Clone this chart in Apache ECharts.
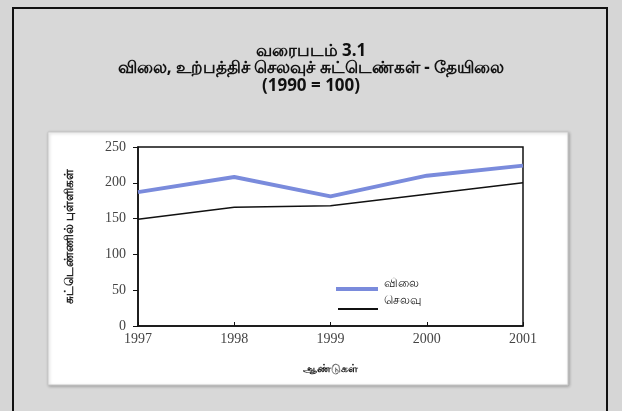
<!DOCTYPE html>
<html><head><meta charset="utf-8">
<script src="https://cdn.jsdelivr.net/npm/echarts@6/dist/echarts.min.js"></script>
<style>html,body{margin:0;padding:0;background:#d6d6d6}#c{width:622px;height:411px}</style>
</head><body><div id="c"></div>
<script>
const years = ['1997','1998','1999','2000','2001'];
const priceIndex = [187, 208, 181, 210, 224];   // விலை
const costIndex  = [149, 166, 168, 184, 200];   // செலவு
const yTicks = [0, 50, 100, 150, 200, 250];
const titleLines = ['வரைபடம் 3.1', 'விலை, உற்பத்திச் செலவுச் சுட்டெண்கள் - தேயிலை', '(1990 = 100)'];
const seriesNames = ['விலை', 'செலவு'];
const xName = 'ஆண்டுகள்';
const yName = 'சுட்டெண்ணில் புள்ளிகள்';

const chart = echarts.init(document.getElementById('c'));
const serif = '"Liberation Serif","DejaVu Serif",serif';
const tFont = 'bold 17px "Noto Sans",sans-serif';
const legText = {fontSize:12, color:'#222', fontFamily:'"Noto Sans",sans-serif'};
chart.setOption({
  backgroundColor: '#d6d6d6',
  animation: false,
  graphic: [
    {type:'rect', shape:{x:13,y:8,width:594,height:420}, style:{fill:'#d8d8d8', stroke:'#111', lineWidth:2}, z:-10},
    {type:'rect', shape:{x:48,y:132,width:520,height:253}, style:{fill:'#ffffff', stroke:'#c8c8c8', lineWidth:1, shadowColor:'rgba(0,0,0,0.25)', shadowBlur:3, shadowOffsetX:1, shadowOffsetY:1}, z:-9},
    {type:'text', left:'center', top:43, style:{text:titleLines[0], font:tFont, fill:'#111', textAlign:'center'}},
    {type:'text', left:'center', top:60, style:{text:titleLines[1], font:tFont, fill:'#111', textAlign:'center'}},
    {type:'text', left:'center', top:78, style:{text:titleLines[2], font:tFont, fill:'#111', textAlign:'center'}}
  ],
  legend: [
    {left: 331, top: 273, itemWidth: 42, itemHeight: 4, icon:'rect', data:[seriesNames[0]],
     formatter: n => '{t|' + n + '}', textStyle:{...legText, rich:{t:{...legText, padding:[0,0,10,1]}}}},
    {left: 333, top: 290, itemWidth: 40, itemHeight: 2, icon:'rect', data:[seriesNames[1]],
     formatter: n => '{t|' + n + '}', textStyle:{...legText, rich:{t:{...legText, padding:[0,0,16,1]}}}}
  ],
  grid: {left:138, right:99, top:147, bottom:85, show:true, borderColor:'#111', borderWidth:1.5},
  xAxis: {
    type:'category', data: years, boundaryGap:false,
    name: xName, nameLocation:'middle', nameGap:37,
    nameTextStyle:{fontSize:11, fontWeight:'bold', color:'#222', fontFamily:'"Noto Sans",sans-serif'},
    axisLine:{lineStyle:{color:'#111', width:1.5}},
    axisTick:{inside:true, length:4, lineStyle:{color:'#111'}},
    axisLabel:{fontFamily:serif, fontSize:14, color:'#444', margin:6}
  },
  yAxis: {
    type:'value', min:yTicks[0], max:yTicks[yTicks.length-1], interval:50,
    name: yName, nameLocation:'middle', nameGap:62, nameRotate:90,
    nameTextStyle:{fontSize:12, fontWeight:'bold', color:'#222', fontFamily:'"Noto Sans",sans-serif'},
    axisLine:{show:true, lineStyle:{color:'#111', width:1.5}},
    axisTick:{show:true, length:5, lineStyle:{color:'#111'}},
    splitLine:{show:false},
    axisLabel:{fontFamily:serif, fontSize:14, color:'#444', margin:12}
  },
  series: [
    {name:seriesNames[0], type:'line', data:priceIndex, symbol:'none', lineStyle:{color:'#7a8bdc', width:4}, itemStyle:{color:'#7a8bdc'}, z:3},
    {name:seriesNames[1], type:'line', data:costIndex, symbol:'none', lineStyle:{color:'#111', width:1.5}, itemStyle:{color:'#111'}, z:2}
  ]
});
</script></body></html>
